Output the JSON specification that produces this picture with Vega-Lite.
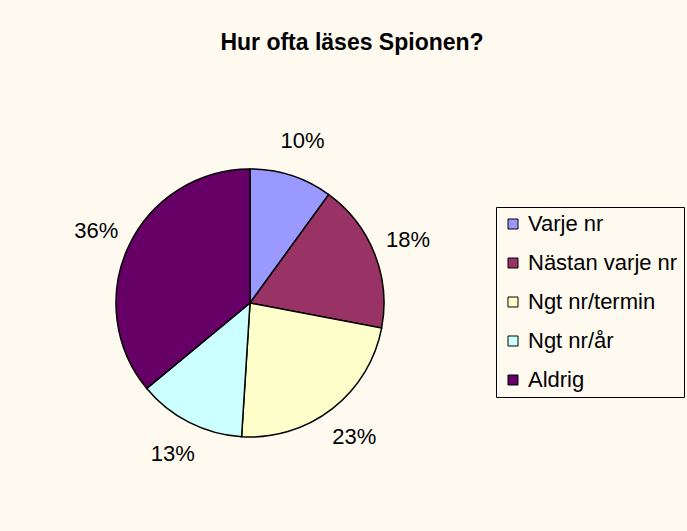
{
  "$schema": "https://vega.github.io/schema/vega-lite/v6.json",
  "autosize": "none",
  "width": 268,
  "height": 268,
  "padding": {"left": 116, "top": 169, "right": 303, "bottom": 94},
  "background": "#FFFAF0",
  "title": {
    "text": "Hur ofta läses Spionen?",
    "font": "Liberation Sans",
    "fontSize": 23,
    "fontWeight": "bold",
    "color": "#000000",
    "anchor": "middle",
    "frame": "group",
    "dx": 102,
    "offset": 75
  },
  "data": {
    "values": [
      {"category": "Varje nr", "value": 10, "label": "10%", "order": 1},
      {"category": "Nästan varje nr", "value": 18, "label": "18%", "order": 2},
      {"category": "Ngt nr/termin", "value": 23, "label": "23%", "order": 3},
      {"category": "Ngt nr/år", "value": 13, "label": "13%", "order": 4},
      {"category": "Aldrig", "value": 36, "label": "36%", "order": 5}
    ]
  },
  "encoding": {
    "theta": {"field": "value", "type": "quantitative", "stack": true},
    "order": {"field": "order", "type": "quantitative", "sort": "ascending"}
  },
  "layer": [
    {
      "mark": {"type": "arc", "outerRadius": 134, "stroke": "#000000", "strokeWidth": 1.5},
      "encoding": {
        "color": {
          "field": "category",
          "type": "nominal",
          "scale": {
            "domain": ["Varje nr", "Nästan varje nr", "Ngt nr/termin", "Ngt nr/år", "Aldrig"],
            "range": ["#9999FF", "#993366", "#FFFFCC", "#CCFFFF", "#660066"]
          },
          "legend": {
            "title": null,
            "orient": "none",
            "legendX": 380,
            "legendY": 38,
            "symbolType": "square",
            "symbolSize": 100,
            "symbolStrokeColor": "#000000",
            "symbolStrokeWidth": 1,
            "symbolOpacity": 1,
            "labelFont": "Liberation Sans",
            "labelFontSize": 22,
            "labelColor": "#000000",
            "labelOffset": 4,
            "rowPadding": 17,
            "padding": 6,
            "strokeColor": "#000000",
            "fillColor": "#FFFAF0"
          }
        }
      }
    },
    {
      "mark": {"type": "text", "radius": 170, "font": "Liberation Sans", "fontSize": 22, "color": "#000000", "align": "center", "baseline": "middle"},
      "encoding": {
        "text": {"field": "label", "type": "nominal"}
      }
    }
  ],
  "config": {
    "view": {"stroke": null}
  }
}
